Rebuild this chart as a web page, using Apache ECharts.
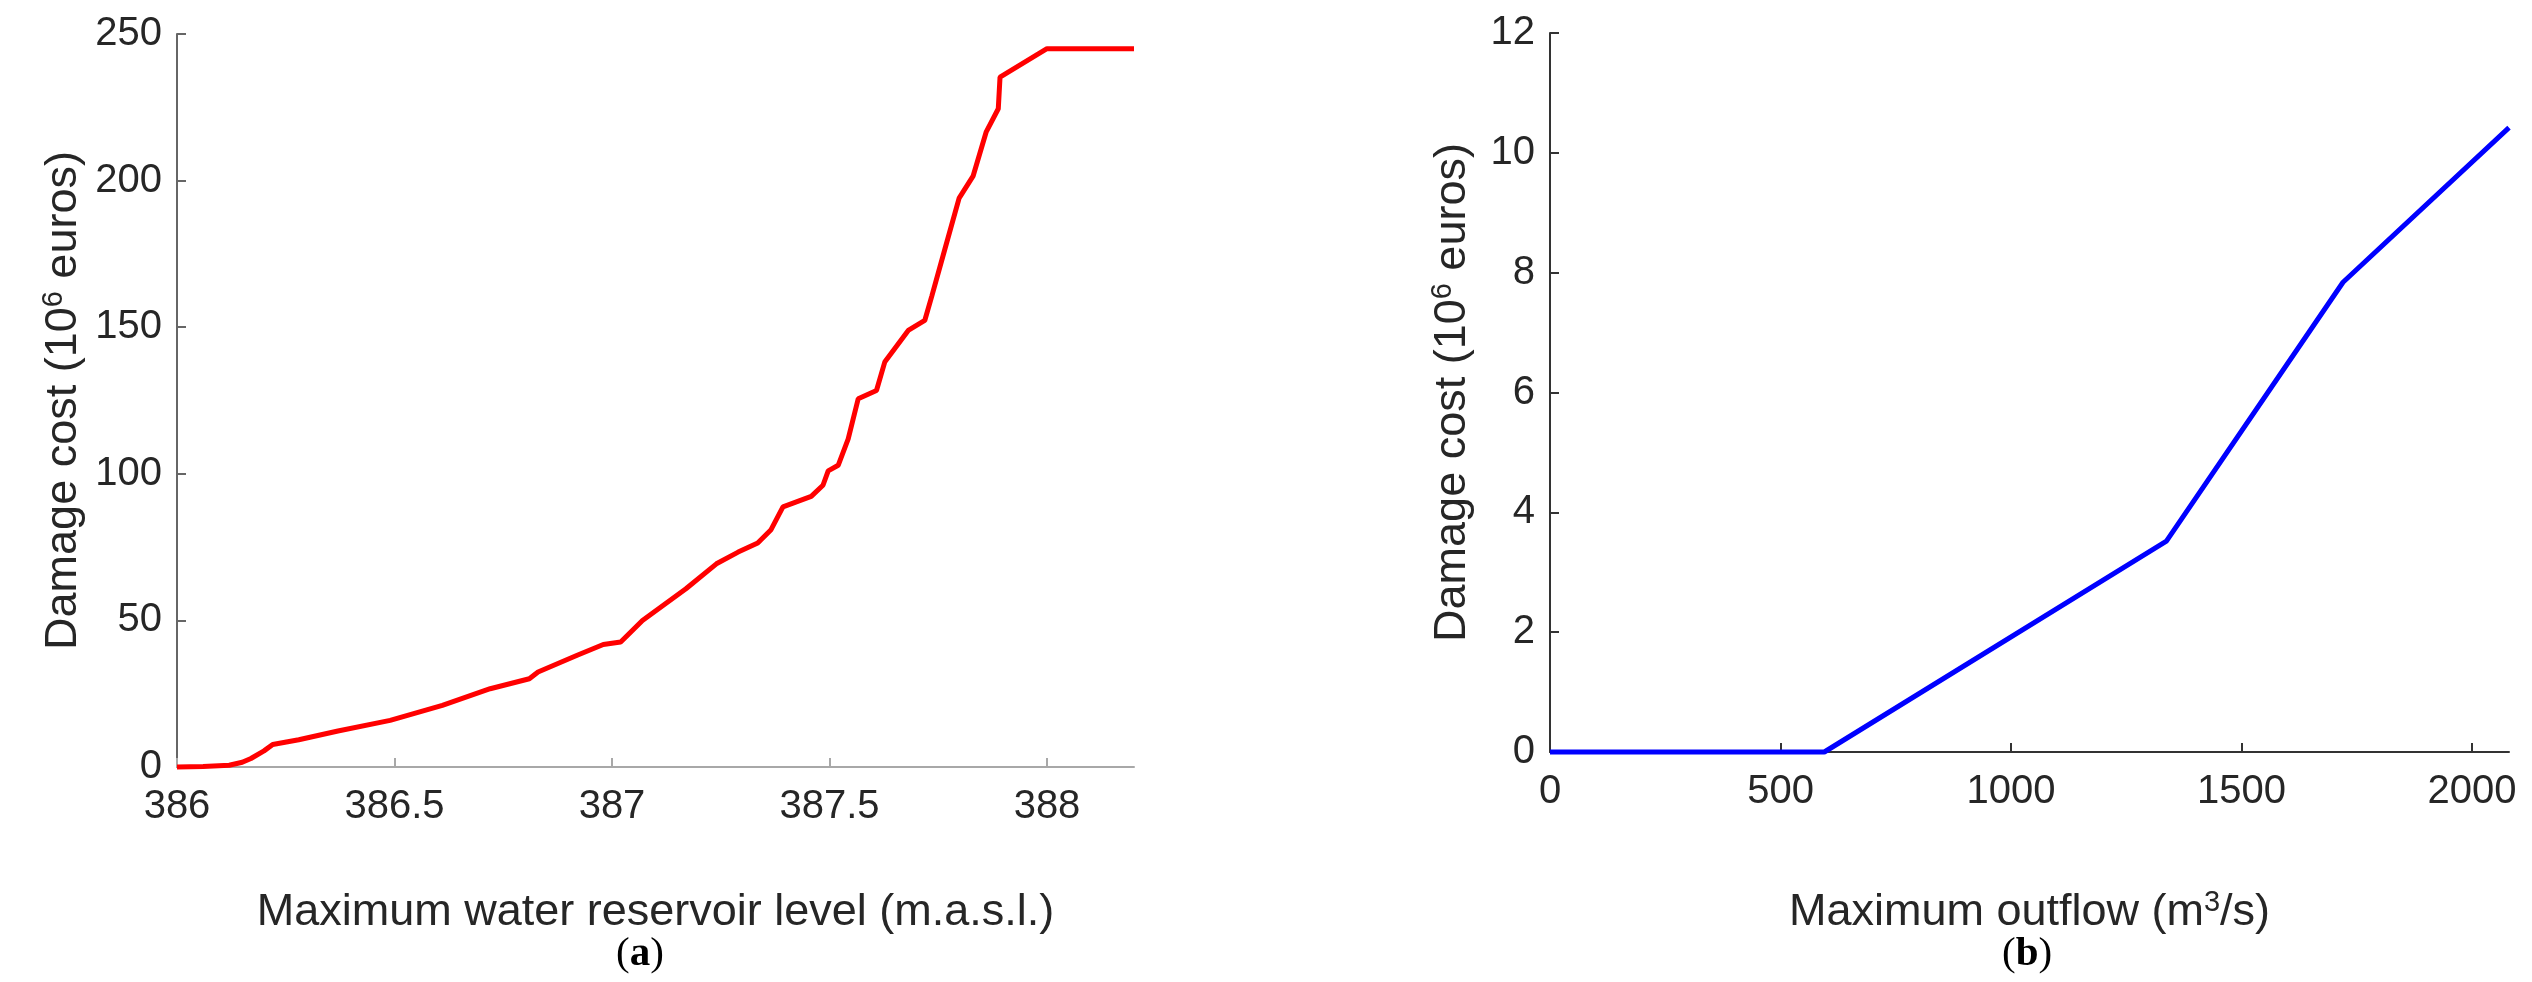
<!DOCTYPE html>
<html>
<head>
<meta charset="utf-8">
<script src="https://cdn.jsdelivr.net/npm/echarts@6/dist/echarts.min.js"></script>
<style>
html,body{margin:0;padding:0;background:#fff;}
#chart{width:2532px;height:982px;}
</style>
</head>
<body>
<div id="chart"></div>
<script>
// Panel (a): maximum water reservoir level (m.a.s.l.) vs damage cost (10^6 euros)
const levelX = [386, 386.06, 386.12, 386.15, 386.17, 386.2, 386.22, 386.28, 386.37, 386.49, 386.61, 386.72, 386.81, 386.83, 386.92, 386.98, 387.02, 387.07, 387.17, 387.24, 387.29, 387.335, 387.365, 387.393, 387.458, 387.485, 387.497, 387.52, 387.543, 387.566, 387.608, 387.627, 387.681, 387.719, 387.735, 387.765, 387.798, 387.83, 387.86, 387.888, 387.892, 387.98, 388.0, 388.2];
const levelCost = [0, 0.2, 0.6, 1.6, 2.9, 5.5, 7.7, 9.3, 12.3, 15.9, 21.0, 26.7, 30.1, 32.4, 38.1, 41.8, 42.6, 50.0, 60.8, 69.3, 73.3, 76.4, 80.8, 88.7, 92.3, 96.1, 101.0, 102.9, 111.9, 125.6, 128.4, 138.1, 148.9, 152.3, 160.5, 176.5, 194.0, 201.5, 216.5, 224.5, 235.3, 243.2, 245.0, 245.0];
// Panel (b): maximum outflow (m3/s) vs damage cost (10^6 euros)
const outflowX = [0, 595, 1337, 1720, 2080];
const outflowCost = [0, 0, 3.52, 7.84, 10.42];
// Tick labels
const levelTicks = [386, 386.5, 387, 387.5, 388];
const costTicksA = [0, 50, 100, 150, 200, 250];
const outflowTicks = [0, 500, 1000, 1500, 2000];
const costTicksB = [0, 2, 4, 6, 8, 10, 12];

const FONT = '"Liberation Sans", Arial, Helvetica, sans-serif';
const SERIF = '"Liberation Serif", "Times New Roman", serif';
const TXT = '#262626';

function axisCommon(lineColor, values, margin) {
  return {
    axisLine: {show: true, onZero: false, lineStyle: {color: lineColor, width: 2}},
    axisTick: {show: true, inside: true, length: 9, lineStyle: {color: lineColor, width: 2}, customValues: values},
    axisLabel: {color: TXT, fontSize: 40, fontFamily: FONT, margin: margin, customValues: values,
      formatter: v => String(v)},
    splitLine: {show: false}
  };
}
const nameRich = {
  t: {fontSize: 45, fontFamily: FONT, color: TXT, lineHeight: 50, verticalAlign: 'middle'},
  s: {fontSize: 29, fontFamily: FONT, color: TXT, verticalAlign: 'top', lineHeight: 50}
};

const chart = echarts.init(document.getElementById('chart'), null, {renderer: 'canvas'});
chart.setOption({
  backgroundColor: '#ffffff',
  animation: false,
  grid: [
    {left: 177, top: 34, width: 957, height: 733},
    {left: 1550, top: 33, width: 959, height: 719}
  ],
  xAxis: [
    Object.assign(axisCommon('#a8a8a8', levelTicks, 20), {
      type: 'value', gridIndex: 0, min: 386, max: 388.2,
      name: '{t|Maximum water reservoir level (m.a.s.l.)}',
      nameLocation: 'middle', nameGap: 121,
      nameTextStyle: {rich: nameRich}
    }),
    Object.assign(axisCommon('#333333', outflowTicks, 20), {
      type: 'value', gridIndex: 1, min: 0, max: 2080,
      name: '{t|Maximum outflow (m}{s|3}{t|/s)}',
      nameLocation: 'middle', nameGap: 136,
      nameTextStyle: {rich: nameRich}
    })
  ],
  yAxis: [
    Object.assign(axisCommon('#666666', costTicksA, 15), {
      type: 'value', gridIndex: 0, min: 0, max: 250,
      name: '{t|Damage cost (10}{s|6}{t| euros)}',
      nameLocation: 'middle', nameGap: 88,
      nameTextStyle: {rich: nameRich}
    }),
    Object.assign(axisCommon('#333333', costTicksB, 15), {
      type: 'value', gridIndex: 1, min: 0, max: 12,
      name: '{t|Damage cost (10}{s|6}{t| euros)}',
      nameLocation: 'middle', nameGap: 72,
      nameTextStyle: {rich: nameRich}
    })
  ],
  series: [
    {
      type: 'line', xAxisIndex: 0, yAxisIndex: 0,
      data: levelX.map((x, i) => [x, levelCost[i]]),
      showSymbol: false, symbol: 'none',
      lineStyle: {color: '#ff0000', width: 5}, clip: false
    },
    {
      type: 'line', xAxisIndex: 1, yAxisIndex: 1,
      data: outflowX.map((x, i) => [x, outflowCost[i]]),
      showSymbol: false, symbol: 'none',
      lineStyle: {color: '#0000ff', width: 5}, clip: false
    }
  ],
  graphic: [
    {
      type: 'text', left: 616, top: 934,
      style: {
        text: '{n|(}{b|a}{n|)}',
        rich: {
          n: {fontSize: 41, fontFamily: SERIF, color: '#000'},
          b: {fontSize: 41, fontWeight: 'bold', fontFamily: SERIF, color: '#000'}
        }
      }
    },
    {
      type: 'text', left: 2002, top: 934,
      style: {
        text: '{n|(}{b|b}{n|)}',
        rich: {
          n: {fontSize: 41, fontFamily: SERIF, color: '#000'},
          b: {fontSize: 41, fontWeight: 'bold', fontFamily: SERIF, color: '#000'}
        }
      }
    }
  ]
});
</script>
</body>
</html>
